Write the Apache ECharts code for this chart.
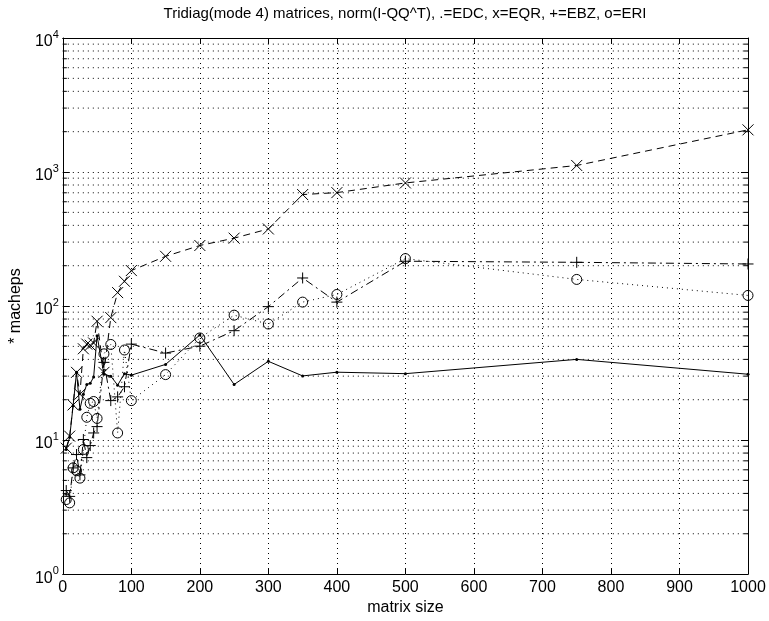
<!DOCTYPE html>
<html>
<head>
<meta charset="utf-8">
<script src="https://cdn.jsdelivr.net/npm/echarts@6/dist/echarts.min.js"></script>
<style>
html,body{margin:0;padding:0;background:#fff;}
#chart{width:769px;height:621px;}
</style>
</head>
<body>
<div id="chart"></div>
<script>
// ---- data ----
var titleText = 'Tridiag(mode 4) matrices, norm(I-QQ^T), .=EDC, x=EQR, +=EBZ, o=ERI';
var xName = 'matrix size';
var yName = '* macheps';
var sizes = [5,10,15,20,25,30,35,40,45,50,60,70,80,90,100,150,200,250,300,350,400,500,750,1000];
var edc = [8.5,10.5,18,32,17,22,26,26.5,29.5,60,31,30,25.7,31.3,30.5,36.7,60.8,26,38.7,30.1,32.1,31.3,40,31];
var eqr = [8.7,10.7,18.3,32,22,48,52,51,53,77,32,82,126,153,184,235,283,321,376,679,702,829,1119,2064];
var ebz = [4.2,3.8,6.2,7.8,5.5,10.1,7.4,9.1,11.3,12.6,38,19.7,21,25,52,44.6,50.2,65.5,99,162,107,216,212,206];
var eri = [3.6,3.4,6.2,5.9,5.2,8.5,14.8,18.8,19.4,14.5,44,51.7,11.3,47,19.7,30.8,57.8,85.5,73.4,107,122,226,158,120];
var xTicks = [0,100,200,300,400,500,600,700,800,900,1000];
var yMinorTicks = [2,3,4,5,6,7,8,9,20,30,40,50,60,70,80,90,200,300,400,500,600,700,800,900,2000,3000,4000,5000,6000,7000,8000,9000];

var FONT = 'Liberation Sans, Arial, Helvetica, sans-serif';
function pairs(vals){ return sizes.map(function(s,i){ return [s, vals[i]]; }); }

var chart = echarts.init(document.getElementById('chart'), null, {renderer:'canvas'});

var yLabel = {
  show: true,
  margin: 4,
  color: '#000',
  formatter: function(v){ var e = Math.round(Math.log10(v)); return '{b|10}{e|' + e + '}'; },
  rich: {
    b: {fontSize: 16, fontFamily: FONT, color: '#000', padding:[8,0,0,0]},
    e: {fontSize: 11, fontFamily: FONT, color: '#000', padding:[0,0,6,0]}
  }
};

var option = {
  backgroundColor: '#fff',
  animation: false,
  graphic: [{
    type: 'text', x: 405, y: 6, silent: true,
    style: {text: titleText, textAlign: 'center', textVerticalAlign: 'top',
      fontSize: 15, fontFamily: FONT, fill: '#000'}
  }],
  grid: {left: 62, right: 21, top: 38, bottom: 42, containLabel: false},
  xAxis: [{
    type: 'value', min: 0, max: 1000, interval: 100, position: 'bottom',
    name: xName, nameLocation: 'middle', nameGap: 23,
    nameTextStyle: {fontSize: 16, color: '#000', fontFamily: FONT},
    axisLine: {show: true, onZero: false, lineStyle: {color: '#000', width: 1}},
    axisTick: {show: true, inside: true, length: 6, lineStyle: {color: '#000'}},
    axisLabel: {show: true, color: '#000', fontSize: 16, fontFamily: FONT, margin: 5,
      formatter: function(v){ return String(v); }},
    splitLine: {show: true, lineStyle: {color: '#000', type: [1,4], width: 1}}
  },{
    type: 'value', min: 0, max: 1000, interval: 100, position: 'top',
    axisLine: {show: true, onZero: false, lineStyle: {color: '#000', width: 1}},
    axisTick: {show: true, inside: true, length: 6, lineStyle: {color: '#000'}},
    axisLabel: {show: false},
    splitLine: {show: false}
  }],
  yAxis: [{
    type: 'log', logBase: 10, min: 1, max: 10000, position: 'left',
    name: yName, nameLocation: 'middle', nameGap: 38, nameRotate: 90,
    nameTextStyle: {fontSize: 16, color: '#000', fontFamily: FONT},
    axisLine: {show: true, onZero: false, lineStyle: {color: '#000', width: 1}},
    axisTick: {show: true, inside: true, length: 7, lineStyle: {color: '#000'}},
    axisLabel: yLabel,
    splitLine: {show: true, lineStyle: {color: '#000', type: [1,4], width: 1}},
    minorTick: {show: false}, minorSplitLine: {show: false}
  },{
    type: 'log', logBase: 10, min: 1, max: 10000, position: 'right',
    axisLine: {show: true, onZero: false, lineStyle: {color: '#000', width: 1}},
    axisTick: {show: true, inside: true, length: 7, lineStyle: {color: '#000'}},
    axisLabel: {show: false},
    splitLine: {show: false}
  }],
  series: [
    {
      type: 'custom', name: 'minorgrid', silent: true, z: 1,
      data: yMinorTicks.map(function(v){ return [0, v]; }),
      renderItem: function(params, api){
        var v = api.value(1);
        var a = api.coord([0, v]);
        var b = api.coord([1000, v]);
        return {type: 'group', children: [
          {type: 'line', shape: {x1: a[0], y1: a[1], x2: b[0], y2: b[1]},
           style: {stroke: '#000', lineWidth: 1, lineDash: [1,4]}},
          {type: 'line', shape: {x1: a[0], y1: a[1], x2: a[0] + 4, y2: a[1]},
           style: {stroke: '#000', lineWidth: 1}},
          {type: 'line', shape: {x1: b[0] - 4, y1: b[1], x2: b[0], y2: b[1]},
           style: {stroke: '#000', lineWidth: 1}}
        ]};
      }
    },
    {
      type: 'line', name: 'EDC', data: pairs(edc), z: 5,
      symbol: 'circle', symbolSize: 3,
      lineStyle: {color: '#000', width: 1, type: 'solid'},
      itemStyle: {color: '#000', borderWidth: 0}
    },
    {
      type: 'line', name: 'EQR', data: pairs(eqr), z: 5,
      symbol: 'path://M0,0L10,10M10,0L0,10', symbolSize: 11,
      lineStyle: {color: '#000', width: 1, type: [7,5]},
      itemStyle: {color: 'none', borderColor: '#000', borderWidth: 1}
    },
    {
      type: 'line', name: 'EBZ', data: pairs(ebz), z: 5,
      symbol: 'path://M5,0L5,10M0,5L10,5', symbolSize: 11,
      lineStyle: {color: '#000', width: 1, type: [8,4,2,4]},
      itemStyle: {color: 'none', borderColor: '#000', borderWidth: 1}
    },
    {
      type: 'line', name: 'ERI', data: pairs(eri), z: 5,
      symbol: 'circle', symbolSize: 10,
      lineStyle: {color: '#000', width: 1, type: [1,4]},
      itemStyle: {color: 'none', borderColor: '#000', borderWidth: 1}
    }
  ]
};
chart.setOption(option);
</script>
</body>
</html>
